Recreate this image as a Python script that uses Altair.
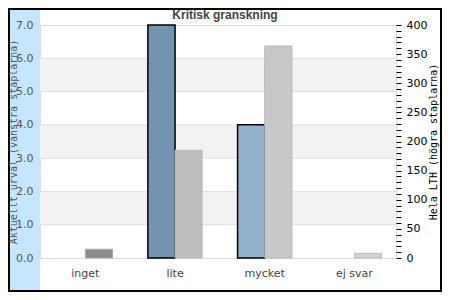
import altair as alt
import pandas as pd

categories = ["inget", "lite", "mycket", "ej svar"]
urval_values = [0, 7, 4, 0]
lth_values = [15, 185, 364, 8]

left_colors = ["#7394b0", "#7394b0", "#92b1cc", "#7394b0"]
right_fills = ["#8c8c8c", "#bebebe", "#c8c8c8", "#d3d3d3"]
right_strokes = ["#a8a8a8", "#bebebe", "#b8b8b8", "#bbbbbb"]

left_ticks = [0, 1, 2, 3, 4, 5, 6, 7]
right_ticks = list(range(0, 401, 10))
title_text = "Kritisk granskning"

left_df = pd.DataFrame({"kat": categories, "v": urval_values, "s": "L"})
right_df = pd.DataFrame({"kat": categories, "v": lth_values, "s": "R"})
bands_df = pd.DataFrame({"y0": [1, 3, 5], "y1": [2, 4, 6]})
grid_df = pd.DataFrame({"g": left_ticks[1:-1]})
one = pd.DataFrame({"t": [title_text]})

W, H = 356, 233

xscale = alt.Scale(domain=categories, range=[0.5, 359.3], paddingInner=0.394, paddingOuter=0.197)
offscale = alt.Scale(domain=["L", "R"], paddingInner=0, paddingOuter=0)
yleft = alt.Scale(domain=[0, 7], nice=False)
yright = alt.Scale(domain=[0, 400], nice=False)

xaxis = alt.Axis(title=None, labelAngle=0, ticks=False, tickSize=0, domain=False,
                 labelColor="#444", labelFont="DejaVu Sans", labelFontSize=11,
                 labelPadding=9, grid=False, zindex=1)

left_axis = alt.Axis(title="Aktuellt urval (vänstra staplarna)", values=left_ticks,
                     format=".1f", ticks=False, tickSize=0, domain=False, grid=False,
                     labelColor="#555", labelFont="DejaVu Sans",
                     labelFontSize=11, labelPadding=7, titleFont="DejaVu Sans Mono",
                     titleFontSize=10, titleFontWeight="normal", titleColor="#555",
                     titleAngle=270, titleBaseline="alphabetic", titleX=-24, zindex=1)

right_axis = alt.Axis(title="Hela LTH (högra staplarna)", orient="right",
                      values=right_ticks,
                      labelExpr="datum.value % 50 == 0 ? datum.label : ''",
                      ticks=True, tickSize=5, tickColor="black", domain=False, grid=False,
                      labelColor="black", labelFont="DejaVu Sans", labelFontSize=11,
                      labelPadding=5, titleFont="DejaVu Sans Mono", titleFontSize=10,
                      titleFontWeight="normal", titleColor="black", titleAngle=270,
                      titleBaseline="top", titlePadding=2, zindex=1)

strip = alt.Chart(one).mark_rect(fill="#c6e6ff").encode(
    x=alt.value(-30), x2=alt.value(0), y=alt.value(-15), y2=alt.value(265))

border = alt.Chart(one).mark_rect(fillOpacity=0, stroke="black", strokeWidth=2).encode(
    x=alt.value(-31), x2=alt.value(401), y=alt.value(-16), y2=alt.value(266))

title = alt.Chart(one).mark_text(font="Liberation Sans", fontSize=12, fontWeight="bold",
                                 color="#444", align="center", baseline="alphabetic").encode(
    x=alt.value(185), y=alt.value(-6), text="t:N")

bands = alt.Chart(bands_df).mark_rect(fill="#f2f2f2").encode(
    x=alt.value(0), x2=alt.value(W),
    y=alt.Y("y0:Q", scale=yleft, axis=left_axis),
    y2="y1:Q")

grid = alt.Chart(grid_df).mark_rule(color="#e0e0e0", strokeWidth=1).encode(
    x=alt.value(0), x2=alt.value(W),
    y=alt.Y("g:Q", scale=yleft, axis=left_axis))

left_bars = alt.Chart(left_df).mark_bar(stroke="black", strokeWidth=1.5).encode(
    x=alt.X("kat:N", scale=xscale, axis=xaxis, sort=categories),
    xOffset=alt.XOffset("s:N", scale=offscale),
    y=alt.Y("v:Q", scale=yleft, axis=left_axis),
    color=alt.Color("kat:N", scale=alt.Scale(domain=categories, range=left_colors), legend=None),
    strokeOpacity=alt.condition("datum.v > 0", alt.value(1), alt.value(0)))

right_bars = alt.Chart(right_df).mark_bar(strokeWidth=1).encode(
    x=alt.X("kat:N", scale=xscale, axis=xaxis, sort=categories),
    xOffset=alt.XOffset("s:N", scale=offscale),
    y=alt.Y("v:Q", scale=yright, axis=right_axis),
    color=alt.Color("kat:N", scale=alt.Scale(domain=categories, range=right_fills), legend=None),
    stroke=alt.Stroke("kat:N", scale=alt.Scale(domain=categories, range=right_strokes), legend=None))

left_layer = alt.layer(strip, border, title, bands, grid, left_bars)

chart = alt.layer(left_layer, right_bars).resolve_scale(
    y="independent", color="independent", stroke="independent"
).properties(
    width=W, height=H,
    autosize=alt.AutoSizeParams(type="none"),
    padding={"left": 32, "top": 17, "right": 46, "bottom": 34},
).configure_view(stroke="black", strokeWidth=1.5).configure(background="white")

chart.save("out.html", embed_options={"renderer": "svg", "actions": False})
